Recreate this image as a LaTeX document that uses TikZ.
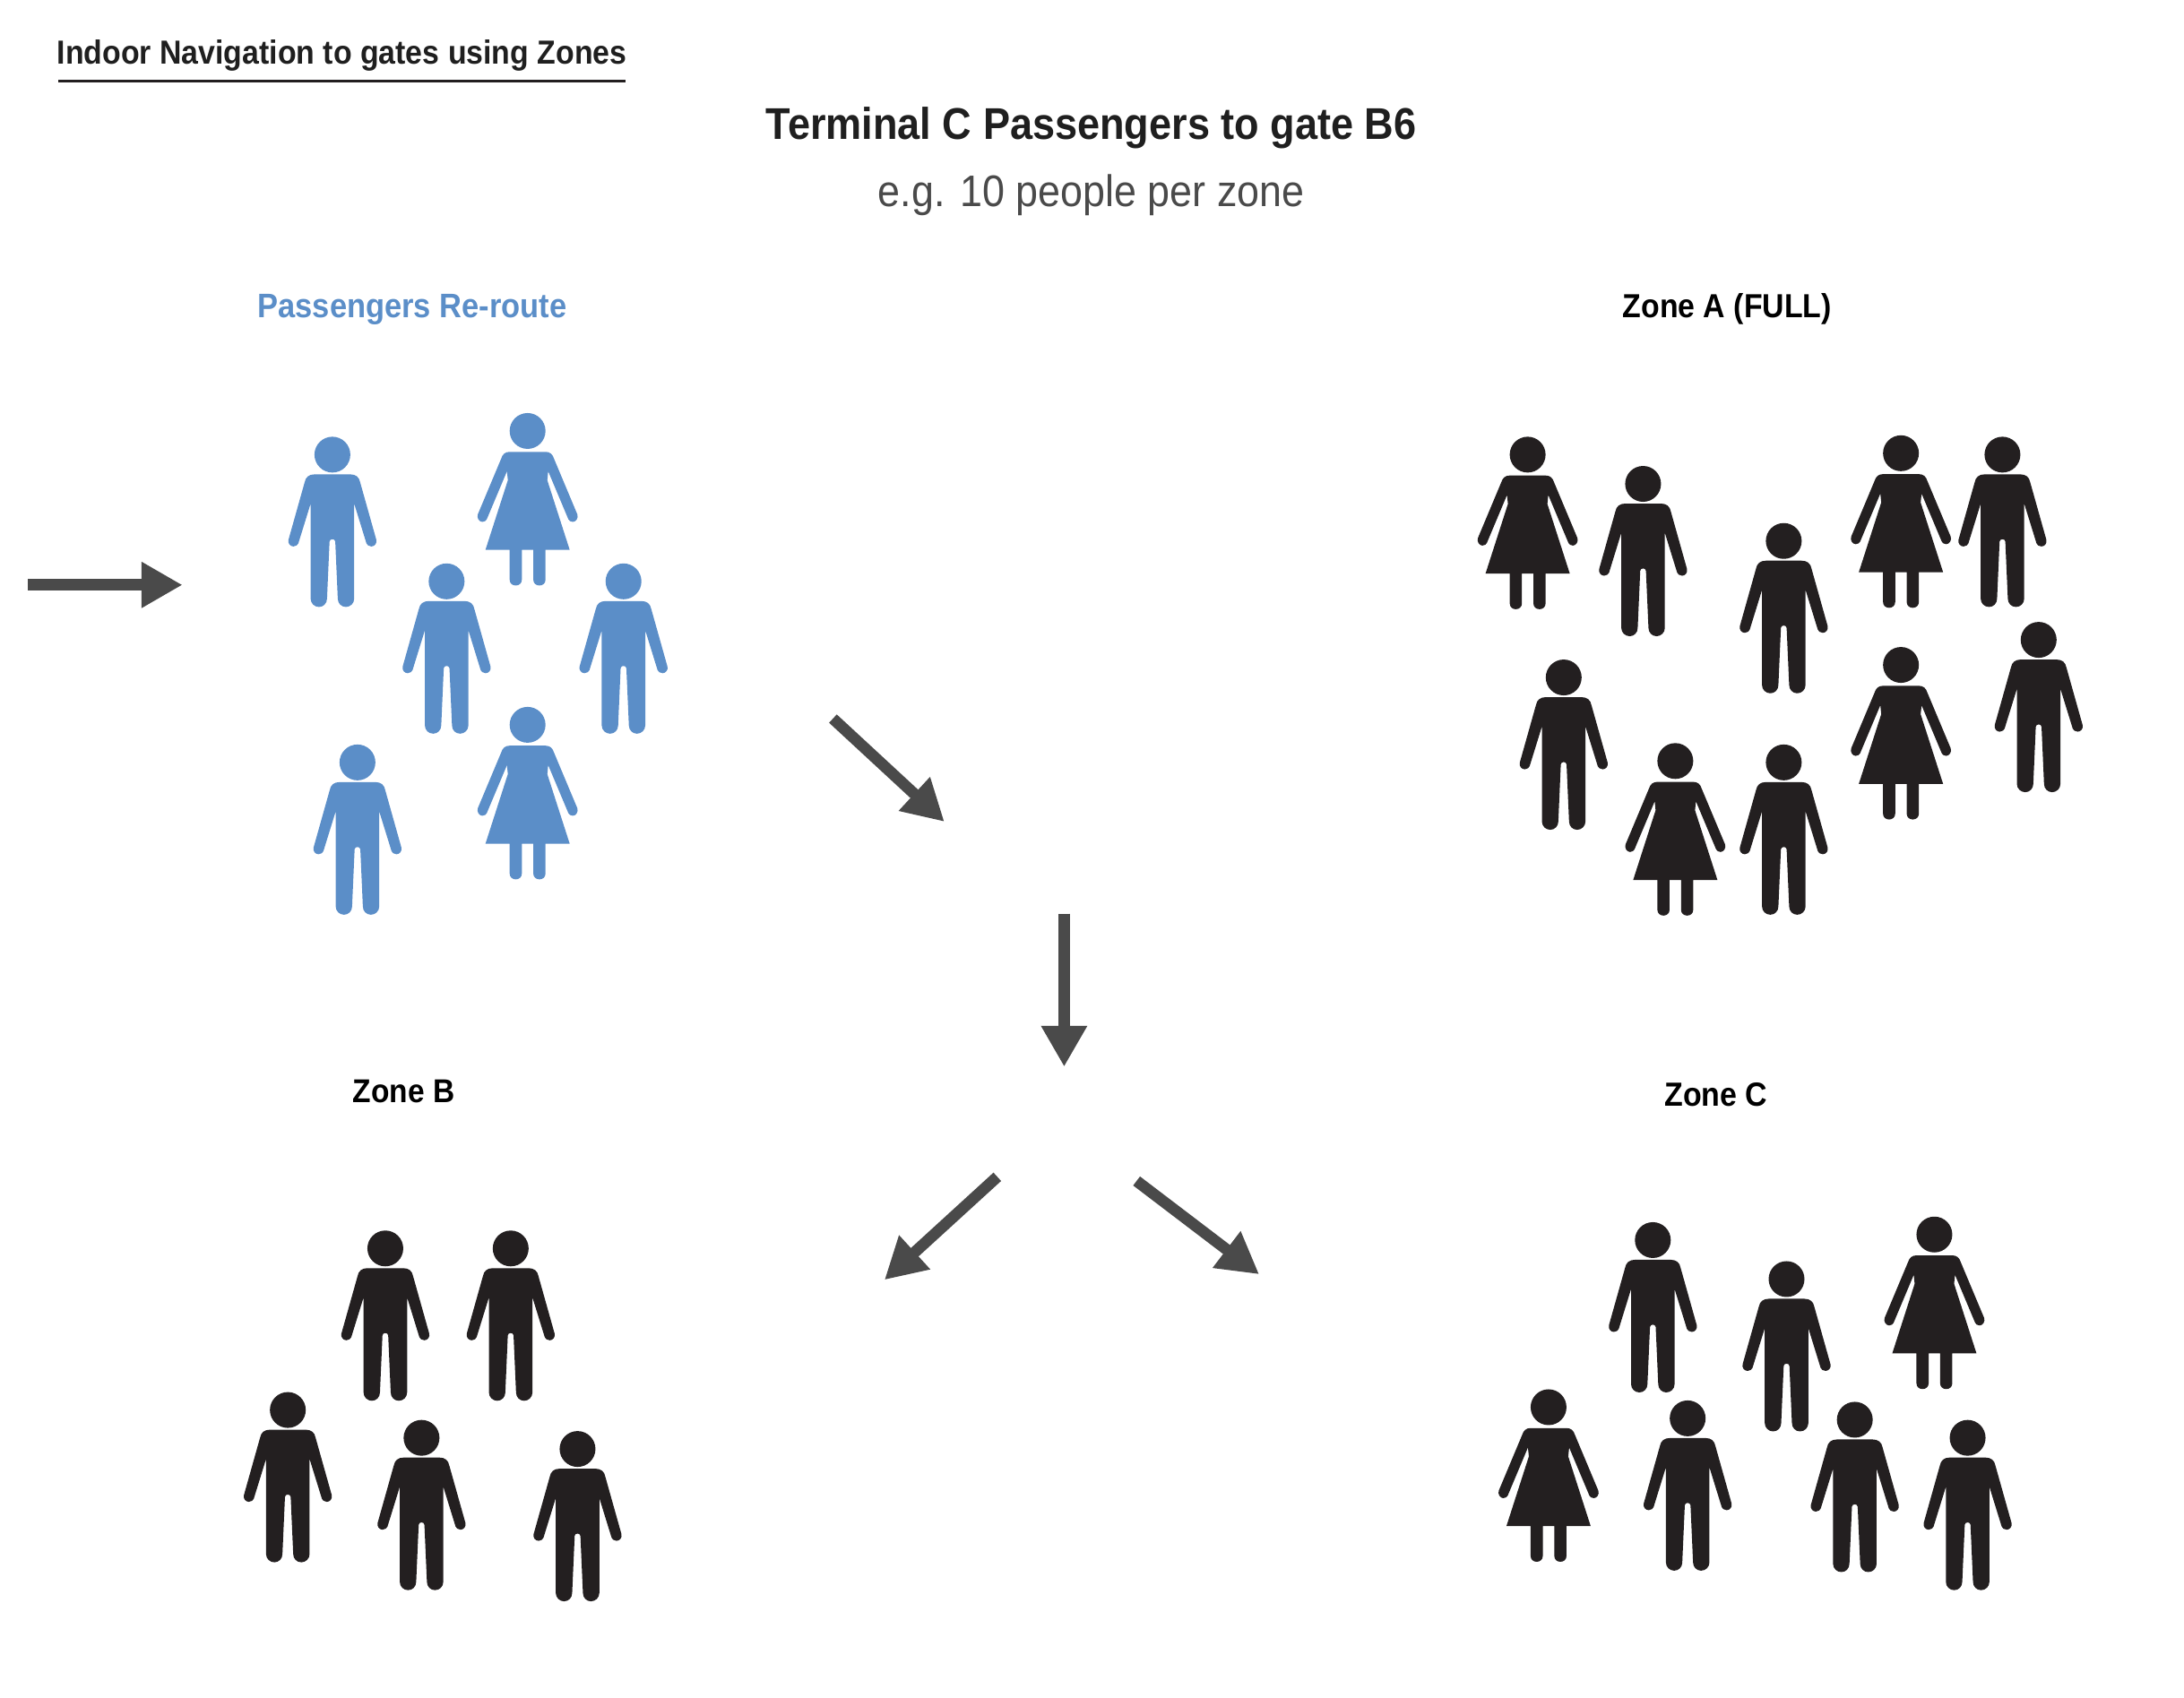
\documentclass[tikz,border=0pt]{standalone}
\usepackage{fontspec}
\usepackage{graphicx}
\usetikzlibrary{arrows.meta}
\setmainfont{Liberation Sans}
\definecolor{pblue}{HTML}{5B8EC8}
\definecolor{pblack}{HTML}{231F20}
\definecolor{agray}{HTML}{4A4A4A}
\definecolor{ttext}{HTML}{1F1F1F}
\newcommand{\fitw}[2]{\scalebox{1}[1.1]{\resizebox{#1cm}{!}{#2}}}
\tikzset{
  man/.pic={
    \path[pic actions,scale=.6434,shift={(1,0.7)}]
      (0,0) circle[radius=20]
      (-20,22) -- (20,22) .. controls (26,22) and (30,25) .. (31,31)
      -- (49,95) .. controls (50,99) and (47,102.5) .. (43.5,102.5)
      .. controls (40.5,102.5) and (38.5,100.5) .. (38,99)
      -- (24.3,54.7) -- (24.3,160.7) .. controls (24.3,166) and (20,170) .. (15,170)
      .. controls (10,170) and (6,166) .. (6,160.7) -- (3.2,97) .. controls (3,93.5) and (-3,93.5) .. (-3.2,97)
      -- (-6,160.7) .. controls (-6,166) and (-10,170) .. (-15,170)
      .. controls (-20,170) and (-24.3,166) .. (-24.3,160.7) -- (-24.3,54.7)
      -- (-38,99) .. controls (-38.5,100.5) and (-40.5,102.5) .. (-43.5,102.5)
      .. controls (-47,102.5) and (-50,99) .. (-49,95)
      -- (-31,31) .. controls (-30,25) and (-26,22) .. (-20,22) -- cycle;
  },
  woman/.pic={
    \path[pic actions,scale=.6434,shift={(1.2,0.7)}]
      (0,0) circle[radius=20]
      (-20,23.3) -- (20,23.3) .. controls (25,23.3) and (28,26) .. (29.5,31)
      -- (55.5,93) .. controls (57,97) and (54,101.5) .. (50.5,101.5)
      .. controls (48,101.5) and (46,100) .. (45.5,98.5)
      -- (23,45) -- (22,55) -- (47,132.7) -- (-47,132.7) -- (-22,55) -- (-23,45)
      -- (-45.5,98.5) .. controls (-46,100) and (-48,101.5) .. (-50.5,101.5)
      .. controls (-54,101.5) and (-57,97) .. (-55.5,93)
      -- (-29.5,31) .. controls (-28,26) and (-25,23.3) .. (-20,23.3) -- cycle
      (20,130) -- (20,166) .. controls (20,170) and (17,172.5) .. (13.2,172.5)
      .. controls (9.5,172.5) and (6.4,170) .. (6.4,166) -- (6.4,130) -- cycle
      (-6.4,130) -- (-6.4,166) .. controls (-6.4,170) and (-9.5,172.5) .. (-13.2,172.5)
      .. controls (-17,172.5) and (-20,170) .. (-20,166) -- (-20,130) -- cycle;
  },
  flow/.style={draw=agray,line width=7.2pt,-{Triangle[length=26pt,width=27.5pt,fill=agray]}},
  lbl/.style={anchor=base,inner sep=0pt,outer sep=0pt},
  bluep/.style={fill=pblue},
  blackp/.style={fill=pblack}
}
\begin{document}
\begin{tikzpicture}[x=0.03108cm,y=-0.03108cm]
\useasboundingbox (0,0) rectangle (1568,1219);
% titles
\node[lbl,text=ttext] (hdr) at (245.5,46) {\fitw{12.71}{\bfseries Indoor Navigation to gates using Zones}};
\coordinate (ul1) at (42,58); \coordinate (ul2) at (449,58);
\draw[draw=pblack,line width=1.6pt] (ul1) -- (ul2);
\node[lbl,text=ttext] (ttl) at (783.5,100) {\fitw{14.51}{\bfseries Terminal C Passengers to gate B6}};
\node[lbl,text=agray] (sub) at (783.5,148) {\fitw{9.51}{e.g. 10 people per zone}};
\node[lbl,text=pblue] (lp) at (296,228) {\fitw{6.90}{\bfseries Passengers Re-route}};
\node[lbl,text=black] (la) at (1240,228) {\fitw{4.66}{\bfseries Zone A (FULL)}};
\node[lbl,text=black] (lb) at (290,792) {\fitw{2.27}{\bfseries Zone B}};
\node[lbl,text=black] (lc) at (1232,794) {\fitw{2.30}{\bfseries Zone C}};
% arrows
\coordinate (a0s) at (20,420); \coordinate (a0e) at (131,420);
\coordinate (a1s) at (598,516); \coordinate (a1e) at (678,590);
\coordinate (a2s) at (764,656); \coordinate (a2e) at (764,766);
\coordinate (a3s) at (716,845); \coordinate (a3e) at (635,919);
\coordinate (a4s) at (816,848); \coordinate (a4e) at (904,915);
\draw[flow] (a0s) -- (a0e);
\draw[flow] (a1s) -- (a1e);
\draw[flow] (a2s) -- (a2e);
\draw[flow] (a3s) -- (a3e);
\draw[flow] (a4s) -- (a4e);
% passengers
\pic[bluep] at (238,326) {man};
\pic[bluep] at (378,309) {woman};
\pic[bluep] at (320,417) {man};
\pic[bluep] at (447,417) {man};
\pic[bluep] at (378,520) {woman};
\pic[bluep] at (256,547) {man};
% zone A
\pic[blackp] at (1096,326) {woman};
\pic[blackp] at (1179,347) {man};
\pic[blackp] at (1280,388) {man};
\pic[blackp] at (1364,325) {woman};
\pic[blackp] at (1437,326) {man};
\pic[blackp] at (1122,486) {man};
\pic[blackp] at (1202,546) {woman};
\pic[blackp] at (1280,547) {man};
\pic[blackp] at (1364,477) {woman};
\pic[blackp] at (1463,459) {man};
% zone B
\pic[blackp] at (276,896) {man};
\pic[blackp] at (366,896) {man};
\pic[blackp] at (206,1012) {man};
\pic[blackp] at (302,1032) {man};
\pic[blackp] at (414,1040) {man};
% zone C
\pic[blackp] at (1186,890) {man};
\pic[blackp] at (1282,918) {man};
\pic[blackp] at (1388,886) {woman};
\pic[blackp] at (1111,1010) {woman};
\pic[blackp] at (1211,1018) {man};
\pic[blackp] at (1331,1019) {man};
\pic[blackp] at (1412,1032) {man};
\end{tikzpicture}
\end{document}
